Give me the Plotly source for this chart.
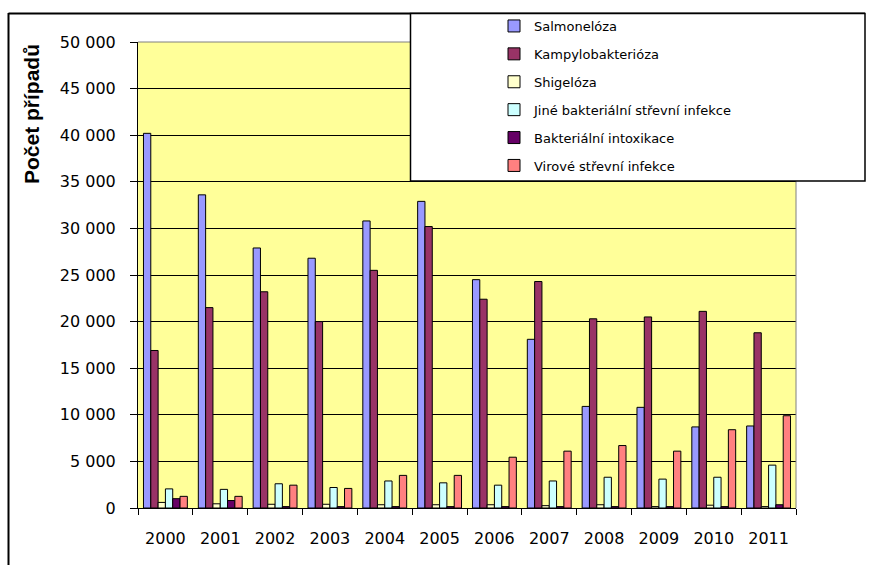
import plotly.graph_objects as go

years = ["2000", "2001", "2002", "2003", "2004", "2005", "2006", "2007", "2008", "2009", "2010", "2011"]

salmoneloza = [40200, 33600, 27900, 26800, 30800, 32900, 24500, 18100, 10900, 10800, 8700, 8800]
kampylobakterioza = [16900, 21500, 23200, 20000, 25500, 30200, 22400, 24300, 20300, 20500, 21100, 18800]
shigeloza = [600, 450, 400, 400, 350, 350, 350, 250, 350, 150, 300, 150]
jine_bakterialni = [2050, 2000, 2600, 2200, 2900, 2700, 2450, 2900, 3300, 3100, 3300, 4600]
bakterialni_intoxikace = [1000, 800, 150, 150, 150, 150, 150, 150, 150, 150, 150, 350]
virove = [1250, 1250, 2450, 2100, 3500, 3500, 5450, 6100, 6700, 6100, 8400, 9900]

series_names = [
    "Salmonelóza",
    "Kampylobakterióza",
    "Shigelóza",
    "Jiné bakteriální střevní infekce",
    "Bakteriální intoxikace",
    "Virové střevní infekce",
]
series_values = [salmoneloza, kampylobakterioza, shigeloza, jine_bakterialni, bakterialni_intoxikace, virove]
series_colors = ["#9999FF", "#993366", "#FFFFCC", "#CCFFFF", "#660066", "#FF8080"]

y_ticks = [0, 5000, 10000, 15000, 20000, 25000, 30000, 35000, 40000, 45000, 50000]
y_tick_labels = ["0", "5 000", "10 000", "15 000", "20 000", "25 000", "30 000", "35 000", "40 000", "45 000", "50 000"]

W, H = 869, 565
ML, MT = 138, 42
PLOT_R, PLOT_B = 796, 508
MR, MB = W - PLOT_R, H - PLOT_B
PW, PH = W - ML - MR, H - MT - MB


def px_x(x):
    return (x - ML) / PW


def px_y(y):
    return 1 - (y - MT) / PH


fig = go.Figure()
for name, vals, col in zip(series_names, series_values, series_colors):
    fig.add_trace(go.Bar(
        x=years, y=vals, name=name, legendgroup=name,
        marker=dict(color=col, line=dict(color="black", width=1)),
    ))

FONT = "Liberation Sans, Arial, sans-serif"
TICKFONT = "DejaVu Sans, sans-serif"

fig.update_layout(
    width=W, height=H,
    margin=dict(l=ML, r=MR, t=MT, b=MB, autoexpand=False),
    paper_bgcolor="white",
    plot_bgcolor="#FFFF99",
    barmode="group",
    bargap=0.2,
    bargroupgap=0,
    font=dict(family=FONT, color="black"),
    showlegend=True,
    legend=dict(
        x=px_x(494), y=px_y(11), xanchor="left", yanchor="top",
        xref="paper", yref="paper",
        bgcolor="rgba(0,0,0,0)", borderwidth=0,
        font=dict(family=TICKFONT, size=13, color="black"),
        tracegroupgap=8,
        traceorder="grouped",
    ),
    xaxis=dict(
        type="category",
        showline=True, linecolor="black", linewidth=1,
        ticks="outside", ticklen=6, tickcolor="black", tickwidth=1,
        tickson="boundaries",
        tickfont=dict(family=TICKFONT, size=16, color="black"),
        ticklabelstandoff=16,
        showgrid=False,
    ),
    yaxis=dict(
        range=[0, 50000],
        tickvals=y_ticks, ticktext=y_tick_labels,
        showline=True, linecolor="black", linewidth=1,
        ticks="outside", ticklen=7, tickcolor="black", tickwidth=1,
        tickfont=dict(family=TICKFONT, size=16, color="black"),
        ticklabelstandoff=11,
        showgrid=True, gridcolor="black", gridwidth=1,
        zeroline=False,
    ),
)

# plot area border (grey top/right)
fig.add_shape(type="line", xref="paper", yref="paper", x0=0, x1=1, y0=1, y1=1,
              line=dict(color="#808080", width=1), layer="above")
fig.add_shape(type="line", xref="paper", yref="paper", x0=1, x1=1, y0=0, y1=1,
              line=dict(color="#808080", width=1), layer="above")

# chart area border (left and top)
fig.add_shape(type="line", xref="paper", yref="paper", x0=px_x(8.5), x1=px_x(8.5), y0=px_y(13), y1=px_y(600),
              line=dict(color="black", width=2), layer="above")
fig.add_shape(type="line", xref="paper", yref="paper", x0=px_x(8.5), x1=px_x(865), y0=px_y(13.5), y1=px_y(13.5),
              line=dict(color="black", width=2), layer="above")

# legend box
fig.add_shape(type="rect", xref="paper", yref="paper", x0=px_x(410.5), x1=px_x(865), y0=px_y(181), y1=px_y(13.5),
              fillcolor="white", line=dict(color="black", width=1.5), layer="above")

# y-axis title
fig.add_annotation(
    text="<b>Počet případů</b>", xref="paper", yref="paper",
    x=px_x(31), y=px_y(114), xanchor="center", yanchor="middle",
    textangle=-90, showarrow=False,
    font=dict(family=FONT, size=21, color="black"),
)

fig.write_html(
    "out.html",
    config={"displayModeBar": False},
    post_script="document.body.style.margin='0';document.body.style.overflow='hidden';",
)
